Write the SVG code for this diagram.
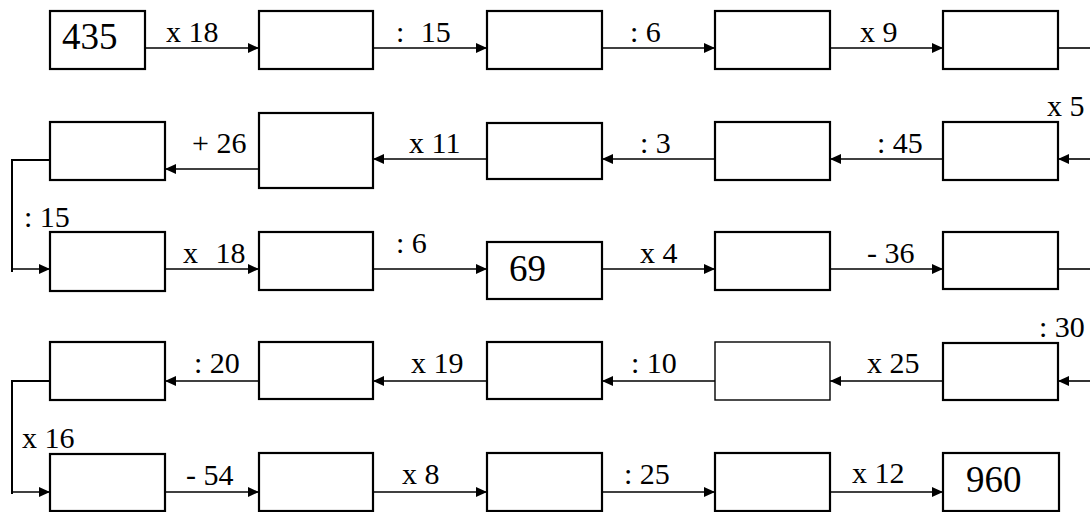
<svg xmlns="http://www.w3.org/2000/svg" width="1090" height="512" viewBox="0 0 1090 512">
<style>
.b{fill:#fff;stroke:#000;stroke-width:2.2}
.bt{fill:#fff;stroke:#000;stroke-width:1.4}
.c{fill:none;stroke:#000;stroke-width:1.6}
</style>
<defs>
<marker id="ah" markerUnits="userSpaceOnUse" markerWidth="12" markerHeight="10" refX="11" refY="5" orient="auto">
<path d="M0,0 L11,5 L0,10 Z" fill="#000"/>
</marker>
</defs>
<rect width="1090" height="512" fill="#fff"/>
<g id="connectors">
<line class="c" x1="145" y1="48" x2="259" y2="48" marker-end="url(#ah)"/>
<line class="c" x1="373" y1="48" x2="487" y2="48" marker-end="url(#ah)"/>
<line class="c" x1="602" y1="48" x2="715" y2="48" marker-end="url(#ah)"/>
<line class="c" x1="830" y1="48" x2="943" y2="48" marker-end="url(#ah)"/>
<line class="c" x1="1058" y1="48" x2="1090" y2="48"/>
<line class="c" x1="1090" y1="159" x2="1058" y2="159" marker-end="url(#ah)"/>
<line class="c" x1="943" y1="159" x2="830" y2="159" marker-end="url(#ah)"/>
<line class="c" x1="715" y1="159" x2="602" y2="159" marker-end="url(#ah)"/>
<line class="c" x1="487" y1="159" x2="373" y2="159" marker-end="url(#ah)"/>
<line class="c" x1="259" y1="169" x2="165" y2="169" marker-end="url(#ah)"/>
<path class="c" d="M50,160 H12 V272" style="stroke-width:2"/>
<line class="c" x1="12" y1="269" x2="50" y2="269" marker-end="url(#ah)"/>
<line class="c" x1="165" y1="269" x2="259" y2="269" marker-end="url(#ah)"/>
<line class="c" x1="373" y1="269" x2="487" y2="269" marker-end="url(#ah)"/>
<line class="c" x1="602" y1="269" x2="715" y2="269" marker-end="url(#ah)"/>
<line class="c" x1="830" y1="269" x2="943" y2="269" marker-end="url(#ah)"/>
<line class="c" x1="1058" y1="269" x2="1090" y2="269"/>
<line class="c" x1="1090" y1="381" x2="1058" y2="381" marker-end="url(#ah)"/>
<line class="c" x1="943" y1="381" x2="830" y2="381" marker-end="url(#ah)"/>
<line class="c" x1="715" y1="381" x2="602" y2="381" marker-end="url(#ah)"/>
<line class="c" x1="487" y1="381" x2="373" y2="381" marker-end="url(#ah)"/>
<line class="c" x1="259" y1="381" x2="165" y2="381" marker-end="url(#ah)"/>
<path class="c" d="M50,381 H12 V494" style="stroke-width:2"/>
<line class="c" x1="12" y1="492" x2="50" y2="492" marker-end="url(#ah)"/>
<line class="c" x1="165" y1="492" x2="259" y2="492" marker-end="url(#ah)"/>
<line class="c" x1="373" y1="492" x2="487" y2="492" marker-end="url(#ah)"/>
<line class="c" x1="602" y1="492" x2="715" y2="492" marker-end="url(#ah)"/>
<line class="c" x1="830" y1="492" x2="943" y2="492" marker-end="url(#ah)"/>
</g>
<g id="labels" font-family="Liberation Serif, serif" font-size="30" fill="#000">
<text x="166" y="42">x 18</text>
<text x="396" y="42">: <tspan dx="9">15</tspan></text>
<text x="630" y="42">: 6</text>
<text x="860" y="42">x 9</text>
<text x="1047" y="116">x 5</text>
<text x="877" y="153">: 45</text>
<text x="640" y="153">: 3</text>
<text x="409" y="153">x 11</text>
<text x="192" y="153">+ 26</text>
<text x="24" y="227">: 15</text>
<text x="183" y="263">x <tspan dx="10">18</tspan></text>
<text x="396" y="253">: 6</text>
<text x="640" y="263">x 4</text>
<text x="867" y="263">- 36</text>
<text x="1039" y="337">: 30</text>
<text x="867" y="373">x 25</text>
<text x="631" y="373">: 10</text>
<text x="411" y="373">x 19</text>
<text x="194" y="373">: 20</text>
<text x="22" y="448">x 16</text>
<text x="186" y="485">- 54</text>
<text x="402" y="484">x 8</text>
<text x="624" y="484">: 25</text>
<text x="852" y="483">x 12</text>
</g>
<g font-family="Liberation Serif, serif" font-size="37" fill="#000">
<g id="n1-1"><rect class="b" x="50" y="11" width="95" height="58"/><text x="62" y="49">435</text></g>
<g id="n1-2"><rect class="b" x="259" y="11" width="114" height="58"/></g>
<g id="n1-3"><rect class="b" x="487" y="11" width="115" height="58"/></g>
<g id="n1-4"><rect class="b" x="715" y="11" width="115" height="58"/></g>
<g id="n1-5"><rect class="b" x="943" y="11" width="115" height="58"/></g>
<g id="n2-1"><rect class="b" x="50" y="122" width="115" height="58"/></g>
<g id="n2-2"><rect class="b" x="259" y="113" width="114" height="75"/></g>
<g id="n2-3"><rect class="b" x="487" y="123" width="115" height="56"/></g>
<g id="n2-4"><rect class="b" x="715" y="122" width="115" height="58"/></g>
<g id="n2-5"><rect class="b" x="943" y="122" width="115" height="58"/></g>
<g id="n3-1"><rect class="b" x="50" y="232" width="115" height="59"/></g>
<g id="n3-2"><rect class="b" x="259" y="232" width="114" height="58"/></g>
<g id="n3-3"><rect class="b" x="487" y="242" width="115" height="57"/><text x="509" y="281">69</text></g>
<g id="n3-4"><rect class="b" x="715" y="232" width="115" height="58"/></g>
<g id="n3-5"><rect class="b" x="943" y="232" width="115" height="57"/></g>
<g id="n4-1"><rect class="b" x="50" y="342" width="115" height="58"/></g>
<g id="n4-2"><rect class="b" x="259" y="342" width="114" height="57"/></g>
<g id="n4-3"><rect class="b" x="487" y="342" width="115" height="57"/></g>
<g id="n4-4"><rect class="bt" x="715" y="342" width="115" height="58"/></g>
<g id="n4-5"><rect class="b" x="943" y="343" width="115" height="57"/></g>
<g id="n5-1"><rect class="b" x="50" y="454" width="115" height="57"/></g>
<g id="n5-2"><rect class="b" x="259" y="453" width="114" height="58"/></g>
<g id="n5-3"><rect class="b" x="487" y="453" width="115" height="58"/></g>
<g id="n5-4"><rect class="b" x="715" y="453" width="115" height="58"/></g>
<g id="n5-5"><rect class="b" x="943" y="453" width="116" height="58"/><text x="966" y="492">960</text></g>
</g>
</svg>
